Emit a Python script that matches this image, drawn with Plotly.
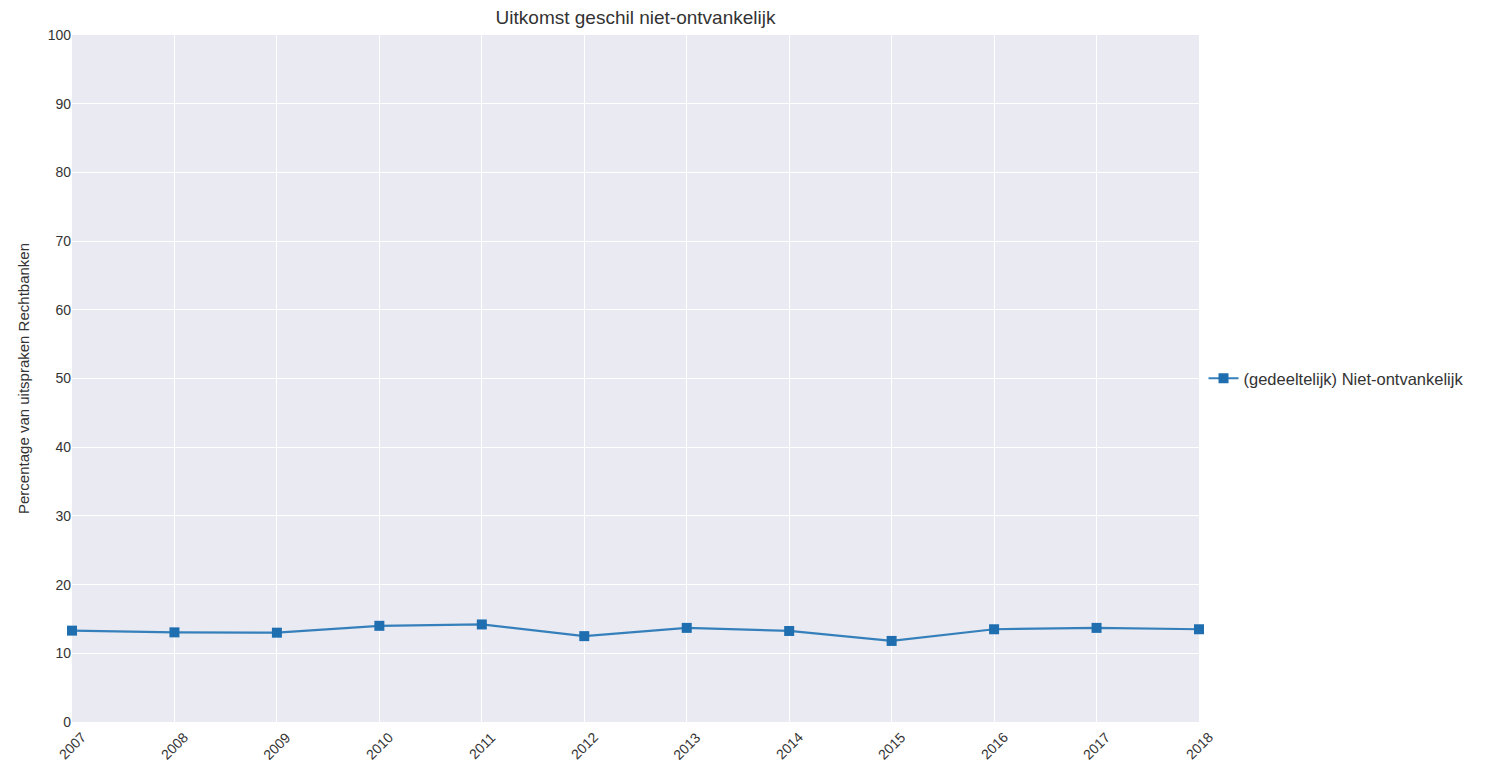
import plotly.graph_objects as go

years = [2007, 2008, 2009, 2010, 2011, 2012, 2013, 2014, 2015, 2016, 2017, 2018]
niet_ontvankelijk = [13.3, 13.05, 13.0, 14.0, 14.2, 12.5, 13.7, 13.25, 11.8, 13.5, 13.7, 13.5]
y_ticks = [0, 10, 20, 30, 40, 50, 60, 70, 80, 90, 100]
year_labels = [str(y) for y in years]

font_family = "Liberation Sans, Arial, sans-serif"
text_color = "#333333"

fig = go.Figure()
fig.add_trace(go.Scatter(
    x=years, y=niet_ontvankelijk, mode="lines+markers",
    name="(gedeeltelijk) Niet-ontvankelijk",
    line=dict(color="#3580bb", width=2.2),
    marker=dict(symbol="square", size=10, color="#1f6fb0"),
    cliponaxis=False,
))

# centered, rotated x tick labels (matplotlib style)
for yr, lab in zip(years, year_labels):
    fig.add_annotation(x=yr, y=0, xref="x", yref="paper", text=lab,
                       showarrow=False, textangle=-45, xanchor="center",
                       yanchor="middle", yshift=-24,
                       font=dict(size=14, color=text_color))

fig.update_layout(
    width=1486, height=768,
    margin=dict(l=64, r=295, t=27, b=54),
    paper_bgcolor="white",
    plot_bgcolor="#EAEAF2",
    font=dict(family=font_family, size=14, color=text_color),
    title=dict(text="Uitkomst geschil niet-ontvankelijk", x=0.4223, xanchor="center",
               y=0.988, yanchor="middle", font=dict(size=19, color=text_color)),
    showlegend=True,
    legend=dict(x=1.004, y=0.5, xanchor="left", yanchor="middle",
                bgcolor="rgba(0,0,0,0)", font=dict(size=16.5, color=text_color)),
    xaxis=dict(range=[years[0], years[-1]], tickmode="array", tickvals=years,
               showticklabels=False,
               showgrid=True, gridcolor="white", gridwidth=1.3,
               zeroline=False, showline=False, ticks=""),
    yaxis=dict(range=[0, 100], tickmode="array", tickvals=y_ticks,
               showgrid=True, gridcolor="white", gridwidth=1.3,
               zeroline=False, showline=False, ticks="",
               tickfont=dict(size=14, color=text_color),
               title=dict(text="Percentage van uitspraken Rechtbanken", standoff=14,
                          font=dict(size=15, color=text_color))),
)

fig.write_html("out.html")
